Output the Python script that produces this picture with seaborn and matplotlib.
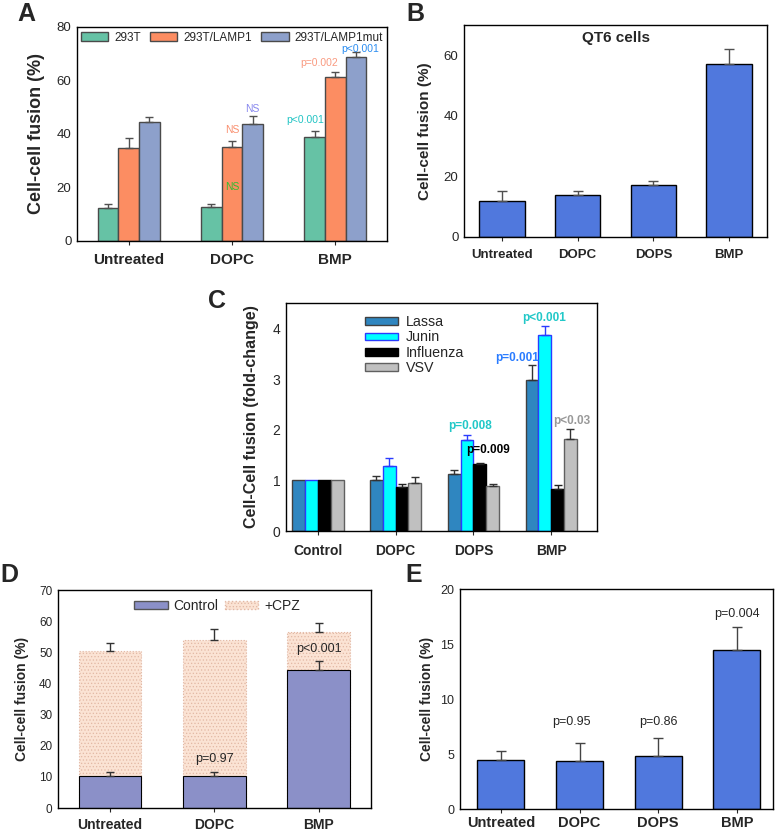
import numpy as np
import pandas as pd
import seaborn as sns
import matplotlib.pyplot as plt
import matplotlib.patches as mpatches

# ---- data ----
# A
a_groups = ['Untreated', 'DOPC', 'BMP']
a_series = ['293T', '293T/LAMP1', '293T/LAMP1mut']
a_293t = [12.2, 12.6, 38.9]
a_293t_err = [1.6, 1.2, 2.1]
a_lamp1 = [34.9, 35.2, 61.2]
a_lamp1_err = [3.5, 2.3, 1.8]
a_mut = [44.5, 43.6, 68.6]
a_mut_err = [1.8, 3.1, 1.9]

# B
b_groups = ['Untreated', 'DOPC', 'DOPS', 'BMP']
b_vals = [12.0, 14.0, 17.3, 57.0]
b_err = [3.1, 1.3, 1.2, 5.0]

# C
c_groups = ['Control', 'DOPC', 'DOPS', 'BMP']
c_series = ['Lassa', 'Junin', 'Influenza', 'VSV']
c_lassa = [1.0, 1.0, 1.13, 2.99]
c_lassa_err = [0, 0.08, 0.08, 0.28]
c_junin = [1.0, 1.29, 1.79, 3.87]
c_junin_err = [0, 0.15, 0.11, 0.17]
c_flu = [1.0, 0.87, 1.33, 0.82]
c_flu_err = [0, 0.06, 0.015, 0.09]
c_vsv = [1.0, 0.95, 0.89, 1.82]
c_vsv_err = [0, 0.11, 0.03, 0.20]

# D
d_groups = ['Untreated', 'DOPC', 'BMP']
d_control = [10.3, 10.3, 44.4]
d_control_err = [1.3, 1.4, 2.9]
d_cpz = [50.3, 54.1, 56.5]
d_cpz_err = [2.8, 3.5, 3.0]

# E
e_groups = ['Untreated', 'DOPC', 'DOPS', 'BMP']
e_vals = [4.45, 4.36, 4.81, 14.5]
e_err = [0.78, 1.63, 1.69, 2.08]

sns.set_style("ticks")
plt.rcParams['font.family'] = ['Liberation Sans', 'DejaVu Sans']
plt.rcParams['hatch.linewidth'] = 0.5


def upper_err(ax, container, errs, color, capsize=3, lw=1.0):
    # only the upper half of the error bar, as in the original
    xs, ys, es = [], [], []
    for p, e in zip(container, errs):
        if e > 0:
            xs.append(p.get_x() + p.get_width() / 2)
            ys.append(p.get_height())
            es.append(e)
    ax.errorbar(xs, ys, yerr=[np.zeros(len(es)), es], fmt='none', ecolor=color,
                elinewidth=lw, capsize=capsize, capthick=lw, zorder=3)


def style_axes(ax, xsize, ysize, ylab, ylab_x, ylab_size, xpad=6):
    for s in ax.spines.values():
        s.set_visible(True)
        s.set_color('black')
        s.set_linewidth(1.0)
    ax.set_xlabel('')
    ax.tick_params(axis='x', length=3, width=0.8, pad=xpad)
    ax.tick_params(axis='y', length=0, labelsize=ysize, pad=4)
    plt.setp(ax.get_xticklabels(), fontweight='bold', fontsize=xsize)
    ax.set_ylabel(ylab, fontweight='bold', fontsize=ylab_size, va='center')
    ax.yaxis.set_label_coords(ylab_x, 0.5)


fig = plt.figure(figsize=(7.77, 8.33), dpi=100)

# ---------- A ----------
ax = fig.add_axes([0.0991, 0.7107, 0.399, 0.2569])
a_colors = ['#66c2a5', '#fc8d62', '#8da0cb']
df_a = pd.DataFrame({'group': a_groups * 3,
                     'series': np.repeat(a_series, 3),
                     'value': a_293t + a_lamp1 + a_mut})
sns.barplot(data=df_a, x='group', y='value', hue='series', hue_order=a_series,
            palette=dict(zip(a_series, a_colors)), width=0.6, saturation=1,
            edgecolor='#4a4a4a', linewidth=1, errorbar=None, legend=False, ax=ax)
for cont, errs in zip(ax.containers, [a_293t_err, a_lamp1_err, a_mut_err]):
    upper_err(ax, cont, errs, '#505050', capsize=3)
ax.set_ylim(0, 80)
ax.set_yticks([0, 20, 40, 60, 80])
ax.set_xlim(-0.5, 2.5)
style_axes(ax, 11, 9.5, 'Cell-cell fusion (%)', -0.132, 13)
handles = [mpatches.Patch(facecolor=c, edgecolor='#4a4a4a', label=s) for c, s in zip(a_colors, a_series)]
ax.legend(handles=handles, ncol=3, loc='upper center', frameon=False, fontsize=8.5,
          handlelength=2.3, handleheight=0.7, handletextpad=0.5, columnspacing=0.8,
          borderaxespad=0.1, borderpad=0.3)
ax.text(1.0, 20.2, 'NS', color='#33bb33', fontsize=7.5, ha='center', va='center')
ax.text(1.0, 41.4, 'NS', color='#f99070', fontsize=7.5, ha='center', va='center')
ax.text(1.2, 49.5, 'NS', color='#8888ee', fontsize=7.5, ha='center', va='center')
ax.text(1.71, 45.1, 'p<0.001', color='#22c4c4', fontsize=7.5, ha='center', va='center')
ax.text(1.84, 66.7, 'p=0.002', color='#f99a80', fontsize=7.5, ha='center', va='center')
ax.text(2.24, 71.6, 'p<0.001', color='#2a8cf0', fontsize=7.5, ha='center', va='center')

# ---------- B ----------
ax = fig.add_axes([0.5972, 0.7155, 0.390, 0.2545])
sns.barplot(x=b_groups, y=b_vals, color='#5078dd', saturation=1, width=0.6,
            edgecolor='black', linewidth=1, errorbar=None, ax=ax)
upper_err(ax, ax.containers[0], b_err, '#505050', capsize=3.5)
ax.set_ylim(0, 70)
ax.set_yticks([0, 20, 40, 60])
ax.set_xlim(-0.5, 3.5)
style_axes(ax, 9.5, 9.5, 'Cell-cell fusion (%)', -0.129, 11)
ax.text(0.5, 0.94, 'QT6 cells', transform=ax.transAxes, ha='center', va='center',
        fontweight='bold', fontsize=11)

# ---------- C ----------
ax = fig.add_axes([0.3681, 0.3625, 0.4003, 0.2737])
c_colors = ['#2f86c0', '#00ffff', '#000000', '#c0c0c0']
c_edges = ['#404040', '#2a3cff', '#000000', '#606060']
c_ecol = ['#333333', '#2a3cff', '#222222', '#333333']
df_c = pd.DataFrame({'group': c_groups * 4,
                     'series': np.repeat(c_series, 4),
                     'value': c_lassa + c_junin + c_flu + c_vsv})
sns.barplot(data=df_c, x='group', y='value', hue='series', hue_order=c_series,
            palette=dict(zip(c_series, c_colors)), width=0.66, saturation=1,
            linewidth=1, errorbar=None, legend=False, ax=ax)
for cont, ec in zip(ax.containers, c_edges):
    for p in cont:
        p.set_edgecolor(ec)
for cont, errs, col in zip(ax.containers, [c_lassa_err, c_junin_err, c_flu_err, c_vsv_err], c_ecol):
    upper_err(ax, cont, errs, col, capsize=3)
ax.set_ylim(0, 4.5)
ax.set_yticks([0, 1, 2, 3, 4])
ax.set_xlim(-0.41, 3.59)
style_axes(ax, 10, 10, 'Cell-Cell fusion (fold-change)', -0.110, 11.5)
handles = [mpatches.Patch(facecolor=c, edgecolor=e, label=s) for c, e, s in zip(c_colors, c_edges, c_series)]
ax.legend(handles=handles, loc='upper left', bbox_to_anchor=(0.245, 0.96), frameon=False,
          fontsize=10.3, handlelength=2.3, handleheight=0.45, handletextpad=0.55,
          labelspacing=0.1, borderaxespad=0, borderpad=0.2)
ax.text(1.957, 2.08, 'p=0.008', color='#22c8c8', fontsize=8.5, fontweight='bold', ha='center', va='center')
ax.text(2.184, 1.59, 'p=0.009', color='black', fontsize=8.5, fontweight='bold', ha='center', va='center')
ax.text(2.558, 3.42, 'p=0.001', color='#2a7cff', fontsize=8.5, fontweight='bold', ha='center', va='center')
ax.text(2.906, 4.20, 'p<0.001', color='#22c8c8', fontsize=8.5, fontweight='bold', ha='center', va='center')
ax.text(3.267, 2.18, 'p<0.03', color='#999999', fontsize=8.5, fontweight='bold', ha='center', va='center')

# ---------- D ----------
ax = fig.add_axes([0.0746, 0.0300, 0.4028, 0.2617])
sns.barplot(x=d_groups, y=d_cpz, color='#fbe3d4', saturation=1, width=0.6,
            edgecolor='#e2b8a4', linewidth=0.8, errorbar=None, ax=ax)
for p in ax.containers[0]:
    p.set_hatch('.....')
    p.set_linestyle(':')
sns.barplot(x=d_groups, y=d_control, color='#8b90c8', saturation=1, width=0.6,
            edgecolor='black', linewidth=0.8, errorbar=None, ax=ax)
upper_err(ax, ax.containers[0], d_cpz_err, '#333333', capsize=3)
upper_err(ax, ax.containers[1], d_control_err, '#333333', capsize=3)
ax.set_ylim(0, 70)
ax.set_yticks(range(0, 71, 10))
ax.set_xlim(-0.5, 2.5)
style_axes(ax, 10, 8.5, 'Cell-cell fusion (%)', -0.116, 10, xpad=4)
handles = [mpatches.Patch(facecolor='#8b90c8', edgecolor='#555555', label='Control'),
           mpatches.Patch(facecolor='#fbe3d4', edgecolor='#e2b8a4', hatch='.....', linestyle=':', label='+CPZ')]
ax.legend(handles=handles, ncol=2, loc='upper center', bbox_to_anchor=(0.508, 0.985),
          frameon=False, fontsize=10, handlelength=2.4, handleheight=0.6,
          handletextpad=0.4, columnspacing=0.5, borderaxespad=0)
ax.text(1.0, 15.8, 'p=0.97', fontsize=9, ha='center', va='center')
ax.text(2.0, 51.1, 'p<0.001', fontsize=9, ha='center', va='center')

# ---------- E ----------
ax = fig.add_axes([0.592, 0.0288, 0.4028, 0.2641])
sns.barplot(x=e_groups, y=e_vals, color='#5078dd', saturation=1, width=0.6,
            edgecolor='black', linewidth=1, errorbar=None, ax=ax)
upper_err(ax, ax.containers[0], e_err, '#444444', capsize=3.5)
ax.set_ylim(0, 20)
ax.set_yticks([0, 5, 10, 15, 20])
ax.set_xlim(-0.52, 3.46)
style_axes(ax, 10.5, 9, 'Cell-cell fusion (%)', -0.106, 10, xpad=2)
ax.text(0.9, 7.87, 'p=0.95', fontsize=9, ha='center', va='center')
ax.text(2.0, 7.87, 'p=0.86', fontsize=9, ha='center', va='center')
ax.text(3.0, 17.73, 'p=0.004', fontsize=9, ha='center', va='center')

# panel letters
for lab, x, y in [('A', 17, 21), ('B', 406, 21), ('C', 208, 308), ('D', 0, 582), ('E', 405, 582)]:
    fig.text(x / 777, 1 - y / 833, lab, fontsize=18, fontweight='bold', ha='left', va='baseline')

fig.savefig('out.png', dpi=100)
